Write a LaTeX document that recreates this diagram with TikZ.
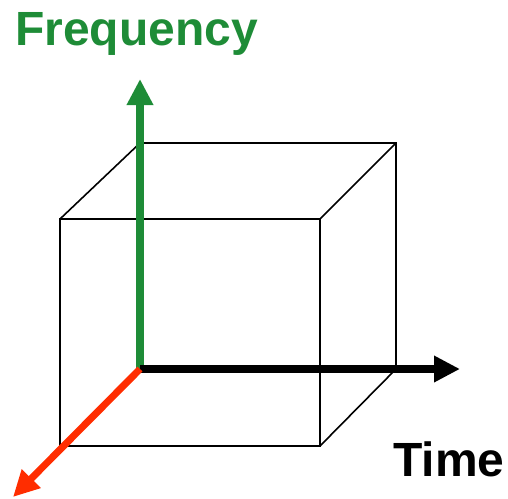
\documentclass[tikz,border=0pt]{standalone}
\usepackage{fontspec}
\setmainfont{Liberation Sans}
\usetikzlibrary{arrows.meta}
\definecolor{axgreen}{RGB}{30,140,55}
\definecolor{axred}{RGB}{255,45,0}
\begin{document}
\begin{tikzpicture}[x=1pt,y=-1pt,
  edge/.style={line width=1.6pt, line join=miter},
  axis/.style={line width=7.5pt, -{Triangle[length=26pt,width=25pt]}},
  lbl/.style={font=\fontsize{48}{52}\selectfont\bfseries, inner sep=0pt, anchor=base west}]
\useasboundingbox (0,0) rectangle (508,498);
% cube corners
\coordinate (O) at (140,369);
\coordinate (BTL) at (140,143);
\coordinate (BTR) at (396,143);
\coordinate (BBR) at (396,369);
\coordinate (FTL) at (60,219);
\coordinate (FTR) at (320,219);
\coordinate (FBR) at (320,446);
\coordinate (FBL) at (60,446);
% axis ends
\coordinate (Fend) at (140,79);
\coordinate (Tend) at (460,369);
\coordinate (Dend) at (13,497);
% cube edges
\draw[edge] (FTL) -- (FTR) -- (FBR) -- (FBL) -- cycle;
\draw[edge] (FTL) -- (BTL) -- (BTR) -- (BBR) -- (FBR);
\draw[edge] (BTR) -- (FTR);
% axes
\draw[axis, axgreen] (O) -- (Fend);
\draw[axis, black] (O) -- (Tend);
\draw[axis, axred, line width=7pt] (O) -- (Dend);
% labels
\node[lbl, text=axgreen] (freq) at (15,45) {Frequency};
\node[lbl, text=black] (time) at (393,476) {Time};
\end{tikzpicture}
\end{document}
